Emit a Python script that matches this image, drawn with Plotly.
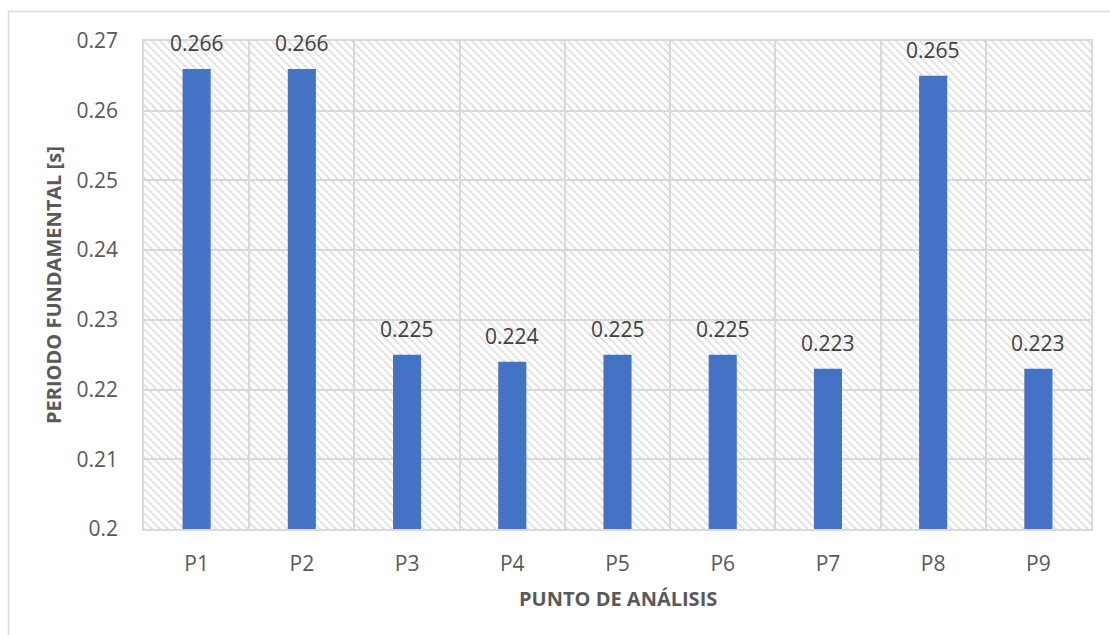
import base64
import plotly.graph_objects as go

# Fundamental period per analysis point
puntos = ["P1", "P2", "P3", "P4", "P5", "P6", "P7", "P8", "P9"]
periodos = [0.266, 0.266, 0.225, 0.224, 0.225, 0.225, 0.223, 0.265, 0.223]

y_min, y_max, y_step = 0.2, 0.27, 0.01

BAR_COLOR = "#4472C4"
GRID_COLOR = "#d9d9d9"
TICK_COLOR = "#595959"
LABEL_COLOR = "#404040"
FONT = "Open Sans"

W, H = 1110, 635
M_L, M_R, M_T, M_B = 144, 19, 41, 106
plot_w, plot_h = W - M_L - M_R, H - M_T - M_B

# Diagonal hatch used as the plot-area fill
hatch_svg = f"""<svg xmlns='http://www.w3.org/2000/svg' width='{plot_w}' height='{plot_h}'>
<defs><pattern id='h' width='8' height='8' patternUnits='userSpaceOnUse'>
<path d='M0,0 L8,8 M-2,6 L2,10 M6,-2 L10,2' stroke='#dedede' stroke-width='1.6'/>
</pattern></defs>
<rect width='100%' height='100%' fill='white'/>
<rect width='100%' height='100%' fill='url(#h)'/>
</svg>"""
hatch_uri = "data:image/svg+xml;base64," + base64.b64encode(hatch_svg.encode()).decode()

fig = go.Figure()
fig.add_trace(go.Bar(
    x=puntos,
    y=periodos,
    marker=dict(color=BAR_COLOR, line=dict(width=0)),
    hoverinfo="x+y",
))

# Value labels above each bar
for p, v in zip(puntos, periodos):
    fig.add_annotation(
        x=p, y=v, xref="x", yref="y",
        text=f"{v:.3f}", showarrow=False,
        yanchor="middle", yshift=26,
        font=dict(family=FONT, size=21, color=LABEL_COLOR),
    )

# Axis titles
fig.add_annotation(
    x=0.5, y=-(598 - (H - M_B)) / plot_h, xref="paper", yref="paper",
    text="<b>PUNTO DE ANÁLISIS</b>", showarrow=False,
    xanchor="center", yanchor="middle",
    font=dict(family=FONT, size=20, color=TICK_COLOR),
)
fig.add_annotation(
    x=(53 - M_L) / plot_w, y=0.5, xref="paper", yref="paper",
    text="<b>PERIODO FUNDAMENTAL [s]</b>", showarrow=False, textangle=-90,
    xanchor="center", yanchor="middle",
    font=dict(family=FONT, size=20, color=TICK_COLOR),
)

# Chart frame
fig.add_shape(
    type="rect", xref="paper", yref="paper",
    x0=(8.5 - M_L) / plot_w, y0=1 + (M_T - 11.5) / plot_h,
    x1=2, y1=-2,
    line=dict(color=GRID_COLOR, width=1.5), fillcolor="rgba(0,0,0,0)",
    layer="below",
)

fig.add_layout_image(
    source=hatch_uri, xref="paper", yref="paper",
    x=0, y=1, sizex=1, sizey=1, sizing="stretch",
    xanchor="left", yanchor="top", layer="below",
)

fig.update_layout(
    width=W, height=H,
    margin=dict(l=M_L, r=M_R, t=M_T, b=M_B),
    paper_bgcolor="white",
    plot_bgcolor="rgba(0,0,0,0)",
    bargap=0.733,
    showlegend=False,
    font=dict(family=FONT, size=21, color=TICK_COLOR),
    xaxis=dict(
        tickson="boundaries", ticks="", showgrid=True,
        gridcolor=GRID_COLOR, gridwidth=1.5,
        showline=True, linecolor=GRID_COLOR, linewidth=1.5, mirror=True,
        ticklabelstandoff=15,
        tickfont=dict(family=FONT, size=21, color=TICK_COLOR),
        fixedrange=True,
    ),
    yaxis=dict(
        range=[y_min, y_max], dtick=y_step, tick0=y_min,
        showgrid=True, gridcolor=GRID_COLOR, gridwidth=1.5,
        zeroline=False, ticks="",
        showline=True, linecolor=GRID_COLOR, linewidth=1.5, mirror=True,
        ticklabelstandoff=20,
        tickfont=dict(family=FONT, size=21, color=TICK_COLOR),
        fixedrange=True,
    ),
)

fig.write_html("out.html", config={"displayModeBar": False})
